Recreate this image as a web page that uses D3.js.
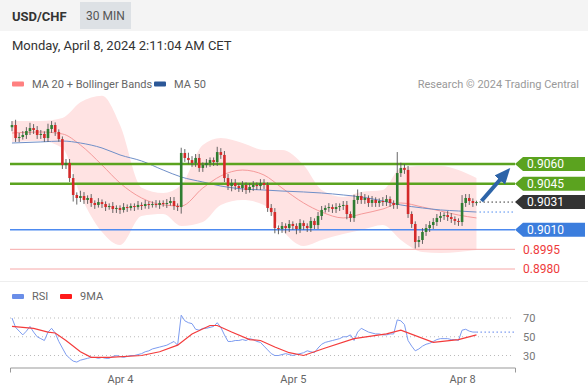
<!DOCTYPE html>
<html>
<head>
<meta charset="utf-8">
<script src="https://cdn.jsdelivr.net/npm/d3@7"></script>
<style>
body { margin: 0; background: #fff; font-family: Roboto, "Liberation Sans", Arial, sans-serif; }
</style>
</head>
<body>
<svg id="chart" width="588" height="392"></svg>
<script>
// USD/CHF 30 min candles, closes
var closes = [
	0.90897, 0.90798, 0.90806, 0.90821, 0.90851, 0.90874, 0.90859, 0.90821, 0.90829, 0.90798,
	0.90867, 0.90897, 0.90844, 0.90790, 0.90592, 0.90608, 0.90493, 0.90364, 0.90341, 0.90356,
	0.90326, 0.90341, 0.90303, 0.90288, 0.90310, 0.90295, 0.90272, 0.90280, 0.90257, 0.90265,
	0.90250, 0.90272, 0.90265, 0.90280, 0.90272, 0.90288, 0.90280, 0.90295, 0.90288, 0.90295,
	0.90288, 0.90303, 0.90295, 0.90303, 0.90318, 0.90280, 0.90272, 0.90684, 0.90646, 0.90630,
	0.90608, 0.90646, 0.90570, 0.90592, 0.90608, 0.90630, 0.90615, 0.90691, 0.90669, 0.90493,
	0.90432, 0.90455, 0.90432, 0.90417, 0.90440, 0.90402, 0.90425, 0.90440, 0.90432, 0.90455,
	0.90440, 0.90265, 0.90234, 0.90112, 0.90105, 0.90128, 0.90112, 0.90143, 0.90128, 0.90105,
	0.90150, 0.90128, 0.90112, 0.90166, 0.90135, 0.90204, 0.90250, 0.90265, 0.90272, 0.90257,
	0.90272, 0.90280, 0.90288, 0.90219, 0.90189, 0.90326, 0.90356, 0.90326, 0.90341, 0.90303,
	0.90326, 0.90303, 0.90318, 0.90310, 0.90333, 0.90303, 0.90288, 0.90531, 0.90570, 0.90555,
	0.90219, 0.90143, 0.90006, 0.90021, 0.90082, 0.90112, 0.90135, 0.90158, 0.90189, 0.90204,
	0.90211, 0.90196, 0.90181, 0.90166, 0.90158, 0.90303, 0.90341, 0.90318, 0.90303, 0.90310
];
var firstOpen = 0.90880;
// wick lengths in pips beyond the body
var upWick = [
	3,4,3,3,3,4,3,3,3,2, 4,3,2,2,2,3,3,3,2,4, 3,2,3,2,3,2,2,2,3,2,
	2,3,2,2,2,3,2,3,2,2, 3,2,2,3,3,3,2,4,3,4, 3,3,3,2,3,2,2,4,3,3,
	3,3,3,2,3,2,3,3,2,3, 3,2,3,3,2,3,2,3,2,2, 3,2,2,3,2,3,3,2,3,2,
	3,2,3,3,2,4,5,3,3,2, 3,2,2,3,3,2,2,16,4,3, 3,2,2,3,3,3,3,3,3,3,
	2,3,3,2,2,6,3,3,2,1
];
var downWick = [
	3,3,3,2,3,3,3,3,3,3, 3,3,3,2,3,3,3,5,5,3, 3,3,3,3,2,3,3,2,3,3,
	3,2,3,2,3,2,3,2,3,2, 2,3,2,3,2,3,3,5,3,3, 3,3,3,3,2,3,3,3,3,3,
	3,4,3,3,3,3,2,3,3,3, 3,3,3,4,4,3,4,3,3,4, 3,3,3,3,3,3,3,2,3,3,
	3,3,3,4,3,3,3,3,3,3, 3,3,3,3,3,3,3,3,3,3, 3,3,5,4,3,3,3,3,3,3,
	3,3,3,3,3,3,3,3,3,2
];

// overlays read at these candle indices
var ovIdx   = [0, 8, 14, 19, 25, 30, 36, 42, 47, 53, 58, 64, 70, 75, 81, 86, 92, 97, 103, 108, 114, 119, 124, 129];
var ma20    = [0.90836, 0.90844, 0.90829, 0.90745, 0.90592, 0.90455, 0.90341, 0.90288, 0.90280, 0.90417, 0.90509, 0.90554,
               0.90516, 0.90417, 0.90303, 0.90234, 0.90189, 0.90219, 0.90257, 0.90303, 0.90272, 0.90242, 0.90211, 0.90189];
var bbUpper = [0.90928, 0.90928, 0.90950, 0.91070, 0.91120, 0.90897, 0.90420, 0.90379, 0.90440, 0.90745, 0.90798, 0.90760,
               0.90707, 0.90707, 0.90592, 0.90402, 0.90349, 0.90387, 0.90402, 0.90570, 0.90585, 0.90585, 0.90554, 0.90493];
var bbLower = [0.90768, 0.90775, 0.90722, 0.90364, 0.90082, 0.89983, 0.90204, 0.90219, 0.90128, 0.90158, 0.90288, 0.90326,
               0.90288, 0.90097, 0.89975, 0.90021, 0.90067, 0.90097, 0.90135, 0.90021, 0.89930, 0.89922, 0.89930, 0.89945];
var ma50    = [0.90760, 0.90768, 0.90775, 0.90760, 0.90722, 0.90669, 0.90623, 0.90554, 0.90501, 0.90463, 0.90432, 0.90410,
               0.90402, 0.90394, 0.90387, 0.90379, 0.90364, 0.90349, 0.90318, 0.90288, 0.90265, 0.90250, 0.90242, 0.90234];

// RSI per candle and its 9 period average
var rsi = [
	70,60,56,52,56,61,55,50,48,46, 55,59,54,45,38,31,27,24,23,25,
	26,27,28,28,27,28,27,27,29,30, 29,28,29,30,30,31,32,34,35,37,
	38,39,40,41,43,45,41,73,67,65, 64,58,57,59,59,60,61,65,60,52,
	45,45,46,46,47,46,48,47,45,44, 40,36,32,30,30,31,32,31,30,31,
	32,33,35,34,33,38,42,44,45,46, 47,48,50,50,52,46,55,59,57,55,
	54,53,53,52,52,53,53,68,67,63, 46,40,35,37,40,42,43,45,47,48,
	48,48,47,47,46,57,58,56,55,55
];
var rsiMaIdx = [0, 6, 10, 12, 15, 19, 22, 27, 36, 41, 46, 50, 55, 57, 61, 66, 69, 73, 77, 81, 87, 95, 104, 108, 117, 124, 129];
var rsiMa    = [61, 59, 55, 54, 46, 34, 28, 28, 30, 34, 41, 53, 62, 62, 55, 47, 46, 39, 33, 30, 38, 48, 53, 57, 44, 47, 52];
var rsiGrid = [30, 50, 70];

var tickIdx = [30, 78, 125];
var tickLabels = ["Apr 4", "Apr 5", "Apr 8"];

var levels = [0.9060, 0.9045, 0.9010, 0.8995, 0.8980];
var levelType = ["res", "res", "sup", "sup2", "sup2"];
var lastPrice = 0.9031;

var svg = d3.select("#chart");
var pip = 0.0001;

var candles = closes.map(function(c, i) {
	var o = i === 0 ? firstOpen : closes[i - 1];
	return {i: i, o: o, c: c,
		h: Math.max(o, c) + upWick[i] * pip,
		l: Math.min(o, c) - downWick[i] * pip};
});

var x = d3.scaleLinear().domain([-0.55, 139.7]).range([10, 515]);
var y = d3.scaleLinear().domain([0.8980, 0.9060]).range([269, 164]);
var yr = d3.scaleLinear().domain([30, 70]).range([355.5, 318]);

// header
svg.append("rect").attr("x", 0).attr("y", 0).attr("width", 588).attr("height", 31).attr("fill", "#f4f4f4");
svg.append("text").attr("x", 12).attr("y", 21).attr("font-size", 13).attr("font-weight", "bold")
	.attr("fill", "#333").text("USD/CHF");
svg.append("rect").attr("x", 80).attr("y", 2).attr("width", 51).attr("height", 27).attr("fill", "#dde1e5");
svg.append("text").attr("x", 105.5).attr("y", 20).attr("text-anchor", "middle").attr("font-size", 12)
	.attr("fill", "#555").text("30 MIN");
svg.append("text").attr("x", 12).attr("y", 50).attr("font-size", 13).attr("fill", "#333")
	.text("Monday, April 8, 2024 2:11:04 AM CET");

// legend
function legendItem(g, lx, ly, color, label) {
	g.append("rect").attr("x", lx).attr("y", ly - 2.5).attr("width", 12).attr("height", 5).attr("rx", 1).attr("fill", color);
	g.append("text").attr("x", lx + 20).attr("y", ly + 4).attr("font-size", 11).attr("fill", "#666").text(label);
}
var leg = svg.append("g");
legendItem(leg, 12, 84, "#ff8080", "MA 20 + Bollinger Bands");
legendItem(leg, 154, 84, "#2b5797", "MA 50");
leg.append("text").attr("x", 579).attr("y", 88).attr("text-anchor", "end").attr("font-size", 11)
	.attr("fill", "#999").text("Research \u00a9 2024 Trading Central");

// bollinger band + moving averages
var ov = ovIdx.map(function(d, k) {
	return {i: d, ma20: ma20[k], up: bbUpper[k], lo: bbLower[k], ma50: ma50[k]};
});
svg.append("path").datum(ov)
	.attr("d", d3.area().curve(d3.curveMonotoneX)
		.x(function(d) { return x(d.i); })
		.y0(function(d) { return y(d.lo); })
		.y1(function(d) { return y(d.up); }))
	.attr("fill", "#ffe3e3");
svg.append("path").datum(ov)
	.attr("d", d3.line().curve(d3.curveMonotoneX)
		.x(function(d) { return x(d.i); })
		.y(function(d) { return y(d.ma20); }))
	.attr("fill", "none").attr("stroke", "#f59a9a").attr("stroke-width", 1);
svg.append("path").datum(ov)
	.attr("d", d3.line().curve(d3.curveMonotoneX)
		.x(function(d) { return x(d.i); })
		.y(function(d) { return y(d.ma50); }))
	.attr("fill", "none").attr("stroke", "#6f8fc8").attr("stroke-width", 1);

// levels
var levelStroke = {res: "#5ba31f", sup: "#4d8af0", sup2: "#f7a8a8"};
var levelWidth = {res: 2.5, sup: 1.5, sup2: 1};
levels.forEach(function(v, k) {
	svg.append("line").attr("x1", 10).attr("x2", 515).attr("y1", y(v)).attr("y2", y(v))
		.attr("stroke", levelStroke[levelType[k]]).attr("stroke-width", levelWidth[levelType[k]]);
});

// candles
var cw = 2.6;
var cg = svg.append("g");
cg.selectAll("line.wick").data(candles).enter().append("line")
	.attr("x1", function(d) { return x(d.i); })
	.attr("x2", function(d) { return x(d.i); })
	.attr("y1", function(d) { return y(d.h); })
	.attr("y2", function(d) { return y(d.l); })
	.attr("stroke", "#555").attr("stroke-width", 0.9);
cg.selectAll("rect.body").data(candles).enter().append("rect")
	.attr("x", function(d) { return x(d.i) - cw / 2; })
	.attr("width", cw)
	.attr("y", function(d) { return y(Math.max(d.o, d.c)); })
	.attr("height", function(d) { return Math.max(1, Math.abs(y(d.o) - y(d.c))); })
	.attr("fill", function(d) { return d.c >= d.o ? "#2f7d32" : "#d42a2a"; });

// dotted extensions
var last = candles[candles.length - 1];
svg.append("line").attr("x1", x(last.i) + 3).attr("x2", 515).attr("y1", y(lastPrice)).attr("y2", y(lastPrice))
	.attr("stroke", "#333").attr("stroke-width", 1).attr("stroke-dasharray", "1.5,2.5");
svg.append("line").attr("x1", x(last.i) + 3).attr("x2", 515)
	.attr("y1", y(ma50[ma50.length - 1])).attr("y2", y(ma50[ma50.length - 1]))
	.attr("stroke", "#4d8af0").attr("stroke-width", 1).attr("stroke-dasharray", "1.5,2.5");

// arrow toward resistance
svg.append("defs").append("marker").attr("id", "head")
	.attr("markerUnits", "userSpaceOnUse").attr("markerWidth", 16).attr("markerHeight", 16)
	.attr("refX", 8).attr("refY", 8).attr("orient", "auto")
	.append("path").attr("d", "M0,1 L16,8 L0,15 Z").attr("fill", "#2d64a8");
svg.append("line").attr("x1", x(last.i) + 5).attr("y1", y(lastPrice) - 1)
	.attr("x2", 505).attr("y2", y(levels[0]) + 10)
	.attr("stroke", "#2d64a8").attr("stroke-width", 4).attr("marker-end", "url(#head)");

// right labels
var boxFill = {res: "#5ba31f", sup: "#3b7ddd"};
function priceBox(v, fill) {
	var yc = y(v);
	svg.append("path")
		.attr("d", "M515," + yc + "L523," + (yc - 7) + "H585V" + (yc + 7) + "H523Z")
		.attr("fill", fill);
	svg.append("text").attr("x", 527).attr("y", yc + 4.2).attr("font-size", 12).attr("fill", "#fff")
		.text(d3.format(".4f")(v));
}
levels.forEach(function(v, k) {
	var t = levelType[k];
	if (t === "sup2") {
		svg.append("text").attr("x", 523).attr("y", y(v) + 4.2).attr("font-size", 12).attr("fill", "#ee3b3b")
			.text(d3.format(".4f")(v));
	} else {
		priceBox(v, boxFill[t]);
	}
});
priceBox(lastPrice, "#333");

// RSI panel
svg.append("line").attr("x1", 0).attr("x2", 588).attr("y1", 281.5).attr("y2", 281.5).attr("stroke", "#eee");
var rleg = svg.append("g");
rleg.append("rect").attr("x", 12).attr("y", 294).attr("width", 12).attr("height", 5).attr("rx", 1).attr("fill", "#6a8ee8");
rleg.append("text").attr("x", 32).attr("y", 300).attr("font-size", 11).attr("fill", "#666").text("RSI");
rleg.append("rect").attr("x", 60).attr("y", 294).attr("width", 12).attr("height", 5).attr("rx", 1).attr("fill", "#ff1a1a");
rleg.append("text").attr("x", 80).attr("y", 300).attr("font-size", 11).attr("fill", "#666").text("9MA");

rsiGrid.forEach(function(v) {
	svg.append("line").attr("x1", 10).attr("x2", 513).attr("y1", yr(v)).attr("y2", yr(v))
		.attr("stroke", "#bbb").attr("stroke-width", 1).attr("stroke-dasharray", "1,3");
	svg.append("text").attr("x", 523).attr("y", yr(v) + 4).attr("font-size", 11).attr("fill", "#777").text(v);
});

svg.append("path").datum(rsi)
	.attr("d", d3.line().x(function(d, i) { return x(i); }).y(function(d) { return yr(d); }))
	.attr("fill", "none").attr("stroke", "#7d9cf0").attr("stroke-width", 1);
svg.append("line").attr("x1", x(rsi.length - 1)).attr("x2", 515)
	.attr("y1", yr(rsi[rsi.length - 1])).attr("y2", yr(rsi[rsi.length - 1]))
	.attr("stroke", "#7d9cf0").attr("stroke-width", 1.2).attr("stroke-dasharray", "1.5,2.5");
svg.append("path").datum(rsiMaIdx)
	.attr("d", d3.line().x(function(d) { return x(d); }).y(function(d, k) { return yr(rsiMa[k]); }))
	.attr("fill", "none").attr("stroke", "#f43b3b").attr("stroke-width", 1.2);

// time axis
var axis = d3.axisBottom(x).tickValues(tickIdx)
	.tickFormat(function(d, k) { return tickLabels[k]; })
	.tickSizeInner(0).tickSizeOuter(5).tickPadding(8);
var ax = svg.append("g").attr("transform", "translate(0,367.5)").call(axis);
ax.select(".domain").attr("stroke", "#999");
ax.selectAll("text").attr("font-size", 11).attr("fill", "#666").attr("font-family", "Roboto, sans-serif");
</script>
</body>
</html>
